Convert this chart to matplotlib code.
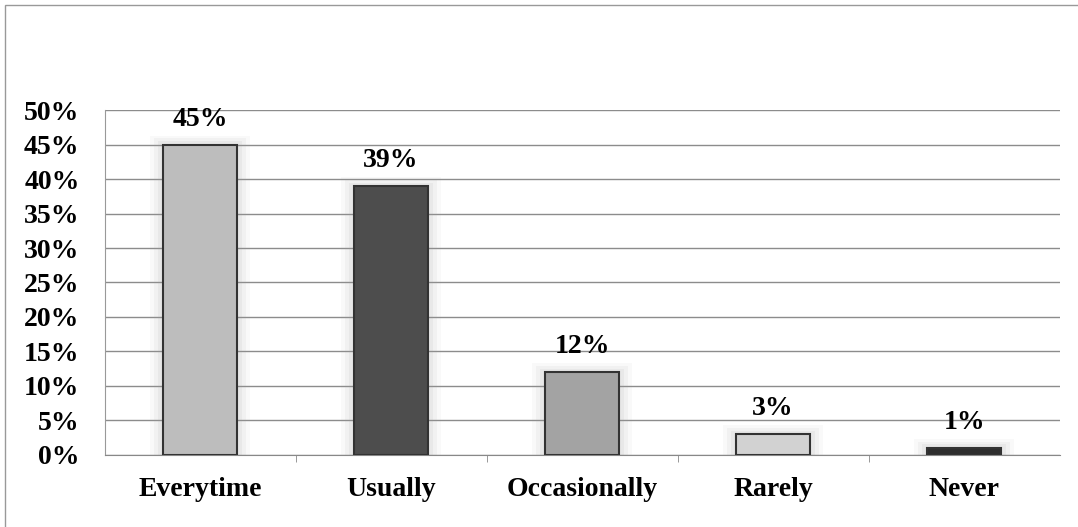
import matplotlib
matplotlib.use('Agg')
import matplotlib.pyplot as plt
from matplotlib.patches import Rectangle

# donnees
categories = ['Everytime', 'Usually', 'Occasionally', 'Rarely', 'Never']
values = [45, 39, 12, 3, 1]
bar_colors = ['#bdbdbd', '#4d4d4d', '#a3a3a3', '#d2d2d2', '#2e2e2e']
y_ticks = [0, 5, 10, 15, 20, 25, 30, 35, 40, 45, 50]

plt.rcParams['font.family'] = ['Liberation Serif', 'DejaVu Serif']

fig = plt.figure(figsize=(10.78, 5.27), dpi=100)
ax = fig.add_axes([0.097, 0.137, 0.886, 0.654])

x = list(range(len(categories)))

# halo autour des barres
for k, a in [(0.52, 0.06), (0.48, 0.08), (0.44, 0.10)]:
    ax.bar(x, [v + (k - 0.39) * 10 for v in values], width=k, color='#999999',
           alpha=a, zorder=2, linewidth=0)

ax.bar(x, values, width=0.39, color=bar_colors, edgecolor='#333333',
       linewidth=1.5, zorder=3)

for xi, v in zip(x, values):
    ax.text(xi, v + 1.9, f'{v}%', ha='center', va='bottom',
            fontsize=20, fontweight='bold', zorder=4)

ax.set_xlim(-0.5, len(categories) - 0.5)
ax.set_ylim(0, 50)
ax.set_yticks(y_ticks)
ax.set_yticklabels([f'{t}%' for t in y_ticks], fontsize=20, fontweight='bold')
ax.set_xticks(x)
ax.set_xticklabels(categories, fontsize=20, fontweight='bold')
ax.tick_params(axis='x', length=0, pad=16)
ax.tick_params(axis='y', length=0, pad=18)

# petits traits entre categories
ax.set_xticks([i + 0.5 for i in x[:-1]], minor=True)
ax.tick_params(axis='x', which='minor', length=5, color='#888888')

ax.grid(axis='y', color='#8c8c8c', linewidth=1.0, zorder=0)
for s in ['top', 'right']:
    ax.spines[s].set_visible(False)
ax.spines['left'].set_color('#999999')
ax.spines['bottom'].set_color('#888888')

# cadre exterieur
fig.patches.append(Rectangle((0.005, -0.1), 1.2, 1.09, transform=fig.transFigure,
                             fill=False, edgecolor='#999999', linewidth=1))

fig.savefig('out.png', dpi=100)
